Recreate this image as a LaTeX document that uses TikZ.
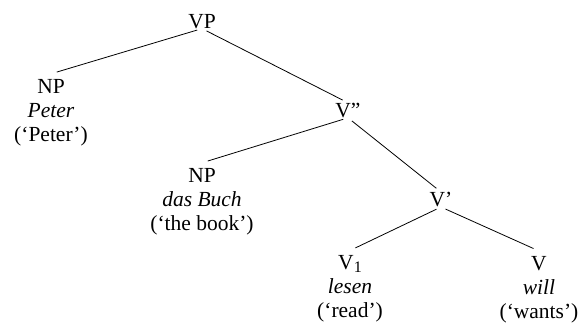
\documentclass[tikz,border=0pt]{standalone}
\usepackage{fontspec}
\setmainfont{Liberation Serif}
\begin{document}
\begin{tikzpicture}[x=1pt,y=-1pt,
  cat/.style={inner sep=0pt,anchor=north,font=\fontsize{21.5}{24}\selectfont},
  leaf/.style={cat,align=center,inner ysep=5pt},
  branch/.style={line width=0.8pt,shorten <=5pt,shorten >=6pt}]
\useasboundingbox (0,0) rectangle (578,324);
\node[cat] (vp) at (202,13.8) {VP};
\node[leaf] (np1) at (51,73.8) {NP\\\textit{Peter}\\(`Peter')};
\node[cat] (vbar2) at (348,102.8) {V''};
\node[leaf] (np2) at (202,162.8) {NP\\\textit{das Buch}\\(`the book')};
\node[cat] (vbar1) at (441,192) {V'};
\node[leaf] (v1) at (350,250.5) {V\raisebox{-3pt}{\fontsize{16}{16}\selectfont 1}\\\textit{lesen}\\(`read')};
\node[leaf] (v) at (539,251) {V\\\textit{will}\\(`wants')};
\draw[branch] (vp.south) -- (np1.north);
\draw[branch] (vp.south) -- (vbar2.north);
\draw[branch] (vbar2.south) -- (np2.north);
\draw[branch] (vbar2.south) -- (vbar1.north);
\draw[branch] (vbar1.south) -- (v1.north);
\draw[branch] (vbar1.south) -- (v.north);
\end{tikzpicture}
\end{document}
